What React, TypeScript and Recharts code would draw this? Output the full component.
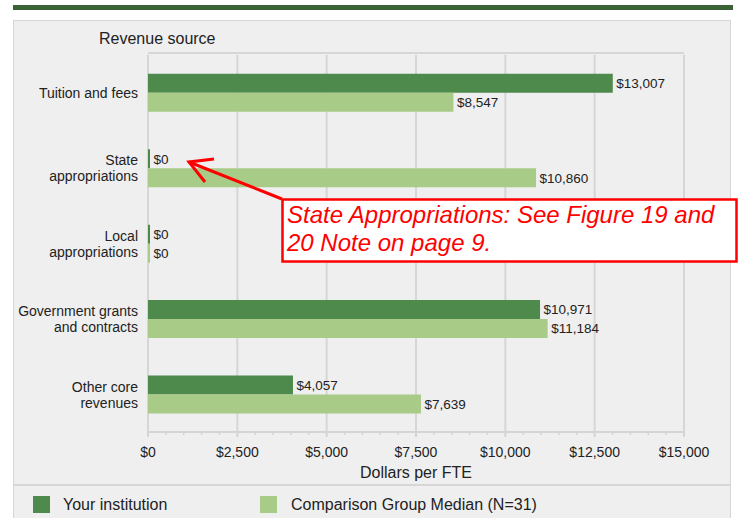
import React from 'react';
import { BarChart, Bar, XAxis, YAxis, CartesianGrid, LabelList, Label } from 'recharts';

const categories = ['Tuition and fees', 'State appropriations', 'Local appropriations', 'Government grants and contracts', 'Other core revenues'];
const categoryLines: string[][] = [
  ['Tuition and fees'],
  ['State', 'appropriations'],
  ['Local', 'appropriations'],
  ['Government grants', 'and contracts'],
  ['Other core', 'revenues'],
];
const yourInstitution = [13007, 0, 0, 10971, 4057];
const comparisonMedian = [8547, 10860, 0, 11184, 7639];
const seriesNames = ['Your institution', 'Comparison Group Median (N=31)'];
const seriesColors = ['#4e8a4c', '#a9cb88'];
const majorTicks = [0, 2500, 5000, 7500, 10000, 12500, 15000];
const minorStep = 500;
const allTicks = Array.from({ length: 15000 / minorStep + 1 }, (_, i) => i * minorStep);
const yAxisTitle = 'Revenue source';
const xAxisTitle = 'Dollars per FTE';
const noteLines = ['State Appropriations: See Figure 19 and', '20 Note on page 9.'];

const data = categories.map((c, i) => ({
  name: c,
  your: yourInstitution[i],
  median: comparisonMedian[i],
}));

const FONT = '"Liberation Sans", Arial, Helvetica, sans-serif';
const money = (v: number) => '$' + Number(v).toLocaleString('en-US');
const TICK_MARGIN = 15;

const XTick = (props: any) => {
  const { x, y, payload } = props;
  const v = payload.value;
  const major = majorTicks.includes(v);
  const axisY = y - TICK_MARGIN;
  return (
    <g>
      <line x1={x} x2={x} y1={axisY} y2={axisY + (major ? 5 : 3)} stroke="#d4d4d4" strokeWidth={major ? 2 : 1.5} />
      {major && (
        <text x={x} y={y} dy="0.71em" textAnchor="middle" fontSize={14} fill="#222" fontFamily={FONT}>
          {money(v)}
        </text>
      )}
    </g>
  );
};

const YTick = (props: any) => {
  const { x, y, payload } = props;
  const idx = categories.indexOf(payload.value);
  const lines = categoryLines[idx] || [String(payload.value)];
  const n = lines.length;
  return (
    <text x={x} y={y} textAnchor="end" fontSize={14} fill="#222" fontFamily={FONT}>
      {lines.map((l, i) => (
        <tspan key={i} x={x} dy={i === 0 ? -(n - 1) * 8 + 5.2 : 16}>
          {l}
        </tspan>
      ))}
    </text>
  );
};

const vGen = (args: any) => {
  const { xAxis, offset } = args || {};
  if (xAxis && typeof xAxis.scale === 'function') {
    return majorTicks.map((t) => xAxis.scale(t));
  }
  return majorTicks.map((t) => offset.left + (t / 15000) * offset.width);
};
const hGen = (args: any) => {
  const { offset } = args || {};
  return [offset.top - 2];
};

export default function App() {
  return (
    <div style={{ position: 'absolute', left: 0, top: 0, width: 739, height: 518, background: '#fff', fontFamily: FONT, overflow: 'hidden' }}>
      <div style={{ position: 'absolute', left: 13, top: 5, width: 720, height: 5, background: '#3b6236' }} />
      <div style={{ position: 'absolute', left: 13, top: 20, width: 716, height: 520, background: '#efefef', border: '1.5px solid #d6d6d6' }} />
      <div style={{ position: 'absolute', left: 13, top: 484, width: 718, height: 2, background: '#d6d6d6' }} />
      <div style={{ position: 'absolute', left: 0, top: 0 }}>
        <BarChart
          width={739}
          height={518}
          data={data}
          layout="vertical"
          margin={{ top: 55, right: 55, bottom: 56, left: 0 }}
          barCategoryGap="25%"
          barGap={0}
        >
          <CartesianGrid
            stroke="#d6d6d6"
            strokeWidth={2}
            vertical
            horizontal
            verticalCoordinatesGenerator={vGen}
            horizontalCoordinatesGenerator={hGen}
          />
          <XAxis
            type="number"
            domain={[0, 15000]}
            ticks={allTicks}
            interval={0}
            tick={<XTick />}
            tickLine={false}
            tickSize={0}
            tickMargin={TICK_MARGIN}
            axisLine={{ stroke: '#d4d4d4', strokeWidth: 2 }}
            height={30}
          >
            <Label value={xAxisTitle} position="bottom" offset={5} fontSize={16} fill="#222" fontFamily={FONT} />
          </XAxis>
          <YAxis
            type="category"
            dataKey="name"
            width={148}
            tick={<YTick />}
            tickLine={false}
            axisLine={false}
            tickSize={0}
            tickMargin={10}
            interval={0}
          />
          <Bar dataKey="your" name={seriesNames[0]} fill={seriesColors[0]} minPointSize={2} isAnimationActive={false}>
            <LabelList dataKey="your" position="right" offset={3.5} formatter={(v: any) => money(v)} fontSize={13.5} fill="#222" fontFamily={FONT} />
          </Bar>
          <Bar dataKey="median" name={seriesNames[1]} fill={seriesColors[1]} minPointSize={2} isAnimationActive={false}>
            <LabelList dataKey="median" position="right" offset={3.5} formatter={(v: any) => money(v)} fontSize={13.5} fill="#222" fontFamily={FONT} />
          </Bar>
        </BarChart>
      </div>
      <svg width={739} height={518} style={{ position: 'absolute', left: 0, top: 0, pointerEvents: 'none' }}>
        <text x={99} y={44} fontSize={16} fill="#222" fontFamily={FONT}>{yAxisTitle}</text>
        <line x1={282} y1={199} x2={189} y2={162} stroke="#ff0000" strokeWidth={3} />
        <polyline points="214,159 189,162 205,182" fill="none" stroke="#ff0000" strokeWidth={3} />
        <rect x={282.5} y={199.5} width={454} height={62} fill="#fff" stroke="#ff0000" strokeWidth={2.5} />
        {noteLines.map((l, i) => (
          <text key={i} x={287} y={223 + i * 28} fontSize={24} fontStyle="italic" fill="#ff0000" fontFamily={FONT}>{l}</text>
        ))}
        {seriesNames.map((n, i) => (
          <g key={n}>
            <rect x={33 + i * 227} y={496} width={17} height={17} fill={seriesColors[i]} />
            <text x={63 + i * 228} y={510} fontSize={16} fill="#222" fontFamily={FONT}>{n}</text>
          </g>
        ))}
      </svg>
    </div>
  );
}
